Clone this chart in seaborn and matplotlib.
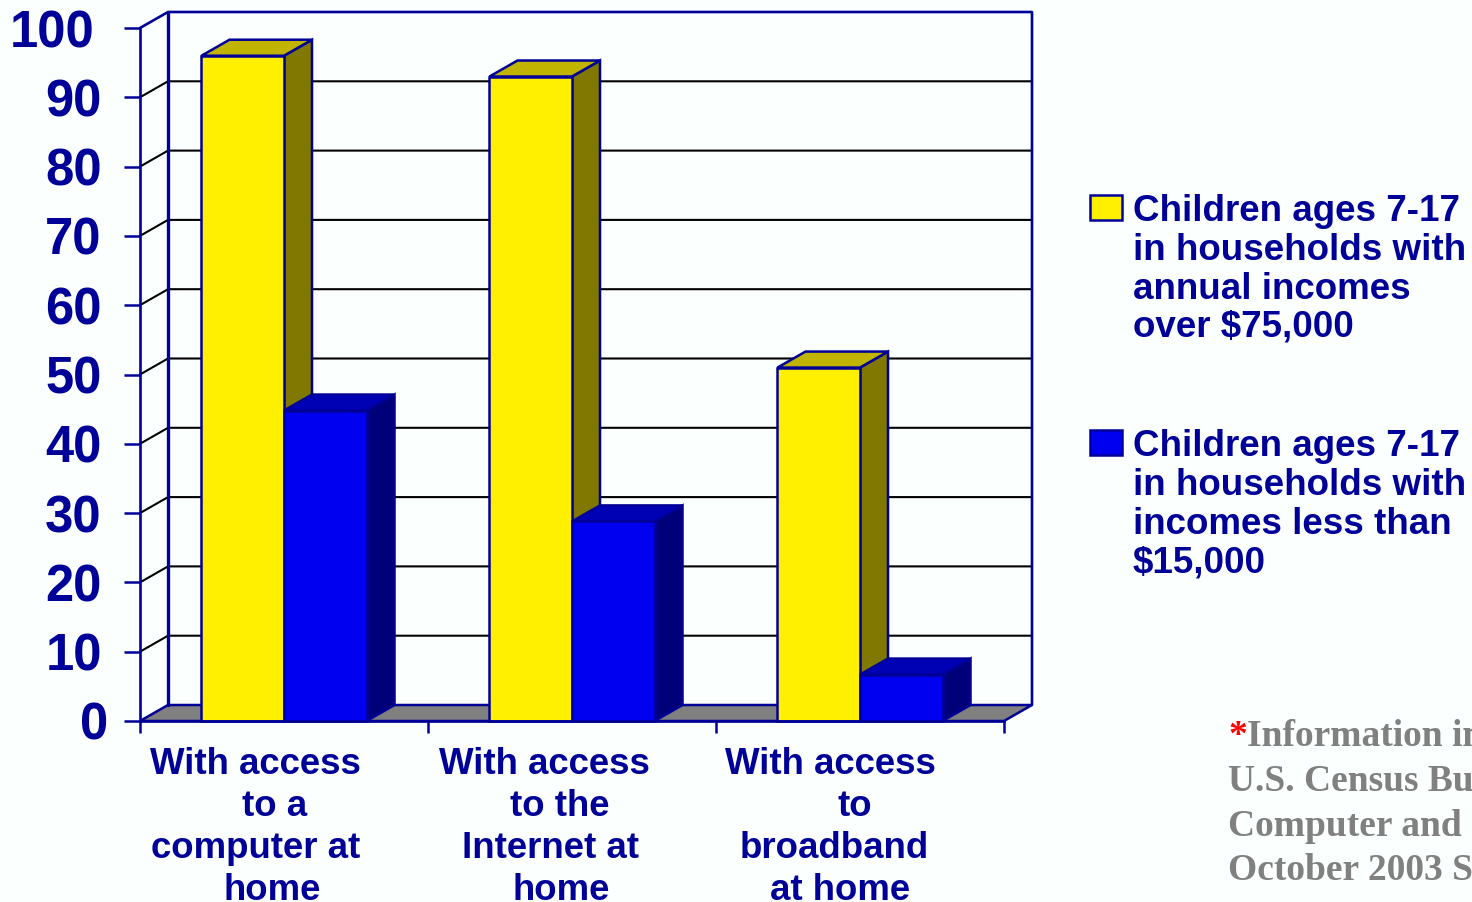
# -*- coding: utf-8 -*-
# children's computer / internet access by income, fake 3d bars on seaborn bars

import pandas as pd
import matplotlib
matplotlib.use('Agg')
import matplotlib.pyplot as plt
from matplotlib.colors import to_hex
from matplotlib.patches import Polygon, Rectangle
from matplotlib.transforms import ScaledTranslation
import seaborn as sns

access = ['computer', 'internet', 'broadband']
high_income = [96, 93, 51]
low_income = [44.8, 28.8, 6.7]
series = ['high', 'low']
y_ticks = [0, 10, 20, 30, 40, 50, 60, 70, 80, 90, 100]

# x label lines: (text, centre x px, baseline y px)
x_label_lines = [
    ('With access', 255, 774), ('to a', 275, 816), ('computer at', 256, 858), ('home', 272, 900),
    ('With access', 544, 774), ('to the', 560, 816), ('Internet at', 550, 858), ('home', 561, 900),
    ('With access', 830, 774), ('to', 855, 816), ('broadband', 834, 858), ('at home', 840, 900),
]
legend_high = ['Children ages 7-17', 'in households with', 'annual incomes', 'over $75,000']
legend_low = ['Children ages 7-17', 'in households with', 'incomes less than', '$15,000']
# the right end of these lines runs off the picture in the original too
note_lines = ['Information in', 'U.S. Census Bureau', 'Computer and Internet', 'October 2003 Supplement']

W, H = 1472, 902
BG = '#FBFFFD'
NAVY = '#000099'
YELLOW, YELLOW_SIDE, YELLOW_TOP = '#FFF000', '#807800', '#C0B400'
BLUE, BLUE_SIDE, BLUE_TOP = '#0000F0', '#000078', '#0000B4'

sns.set_style('white')
plt.rcParams['font.family'] = ['Liberation Sans', 'DejaVu Sans']
plt.rcParams['font.weight'] = 'bold'

fig = plt.figure(figsize=(W / 100, H / 100), dpi=100, facecolor=BG)
ax = fig.add_axes([140 / W, 1 - 721 / H, 864 / W, 693 / H], facecolor='none')

df = pd.DataFrame({'access': access, 'high': high_income, 'low': low_income})
df = df.melt(id_vars='access', value_vars=series, var_name='group', value_name='pct')

sns.barplot(data=df, x='access', y='pct', hue='group', hue_order=series,
            palette=[YELLOW, BLUE], saturation=1, width=0.573, gap=0,
            edgecolor=NAVY, linewidth=1.8, legend=False, ax=ax)
bars = sorted(ax.patches, key=lambda p: p.get_x())

ax.set_xlim(-0.5, 2.5)
ax.set_ylim(0, 100)
ax.set_xlabel('')
ax.set_ylabel('')

# depth of the fake 3d in data units (28 px right, 16 px up)
dx = 28 / 864 * 3
dy = 16 / 693 * 100

# back wall, side wall, floor
ax.add_patch(Polygon([(-0.5, 0), (-0.5 + dx, dy), (2.5 + dx, dy), (2.5, 0)], closed=True,
                     fc='#808080', ec=NAVY, lw=1.8, clip_on=False, zorder=1))
for v in y_ticks[1:-1]:
    ax.plot([-0.5, -0.5 + dx, 2.5 + dx], [v, v + dy, v + dy], color='black', lw=1.5,
            clip_on=False, zorder=1)
ax.plot([-0.5 + dx, -0.5 + dx], [dy, 100 + dy], color=NAVY, lw=2.4, clip_on=False, zorder=1.5)
ax.plot([-0.5, -0.5 + dx, 2.5 + dx, 2.5 + dx], [100, 100 + dy, 100 + dy, dy], color=NAVY, lw=1.9,
        clip_on=False, zorder=1.5)

# top and side face for every bar, drawn left to right so blue covers yellow
z = 2
for bar in bars:
    x0, x1 = bar.get_x(), bar.get_x() + bar.get_width()
    top = bar.get_height()
    is_blue = to_hex(bar.get_facecolor()).upper() == BLUE
    side_col = BLUE_SIDE if is_blue else YELLOW_SIDE
    top_col = BLUE_TOP if is_blue else YELLOW_TOP
    ax.add_patch(Polygon([(x1, 0), (x1 + dx, dy), (x1 + dx, top + dy), (x1, top)], closed=True,
                         fc=side_col, ec=NAVY, lw=1.8, clip_on=False, zorder=z))
    ax.add_patch(Polygon([(x0, top), (x0 + dx, top + dy), (x1 + dx, top + dy), (x1, top)], closed=True,
                         fc=top_col, ec=NAVY, lw=1.8, clip_on=False, zorder=z))
    bar.set_zorder(z + 0.5)
    bar.set_clip_on(False)
    z += 1

# axes
for s in ['top', 'right']:
    ax.spines[s].set_visible(False)
for s in ['left', 'bottom']:
    ax.spines[s].set_color(NAVY)
    ax.spines[s].set_linewidth(1.9)
    ax.spines[s].set_zorder(20)

ax.set_xticks([-0.5, 0.5, 1.5, 2.5])
ax.set_xticklabels([])
ax.tick_params(axis='x', bottom=True, length=8.6, width=1.8, color=NAVY)
ax.set_yticks(y_ticks)
ax.set_yticklabels([str(v) for v in y_ticks])
ax.tick_params(axis='y', left=True, length=11.5, width=1.8, color=NAVY, pad=16,
               labelsize=36.5, labelcolor=NAVY)

# the original labels are staggered a little
for lab, v in zip(ax.get_yticklabels(), y_ticks):
    shift = {100: -7, 0: 6}.get(v, 0)
    lab.set_transform(lab.get_transform() + ScaledTranslation(shift / 100, 0, fig.dpi_scale_trans))
    lab.set_fontweight('bold')


def px_text(x, y, s, **kw):
    # text placed in picture pixels, y counted from the top
    return fig.text(x / W, 1 - y / H, s, va='baseline', **kw)


for s, cx, base in x_label_lines:
    px_text(cx, base, s, ha='center', fontsize=26.4, color=NAVY, fontweight='bold')

for box_col, top_y, lines, bases in [(YELLOW, 195, legend_high, [221, 260, 299, 337]),
                                     (BLUE, 430, legend_low, [456, 495, 534, 572])]:
    fig.add_artist(Rectangle((1090 / W, 1 - (top_y + 25) / H), 32 / W, 25 / H, fc=box_col, ec=NAVY,
                             lw=1.8, transform=fig.transFigure))
    for s, base in zip(lines, bases):
        px_text(1133, base, s, ha='left', fontsize=26.5, color=NAVY, fontweight='bold')

note_kw = dict(ha='left', fontsize=27, fontweight='bold', family=['Liberation Serif', 'DejaVu Serif'])
for i, (s, base) in enumerate(zip(note_lines, [746, 791, 836, 880])):
    if i == 0:
        px_text(1228, base, '*', color='#FF0000', **note_kw)
        px_text(1247, base, s, color='#808080', **note_kw)
    else:
        px_text(1228, base, s, color='#808080', **note_kw)

fig.savefig('out.png', dpi=100, facecolor=BG)
